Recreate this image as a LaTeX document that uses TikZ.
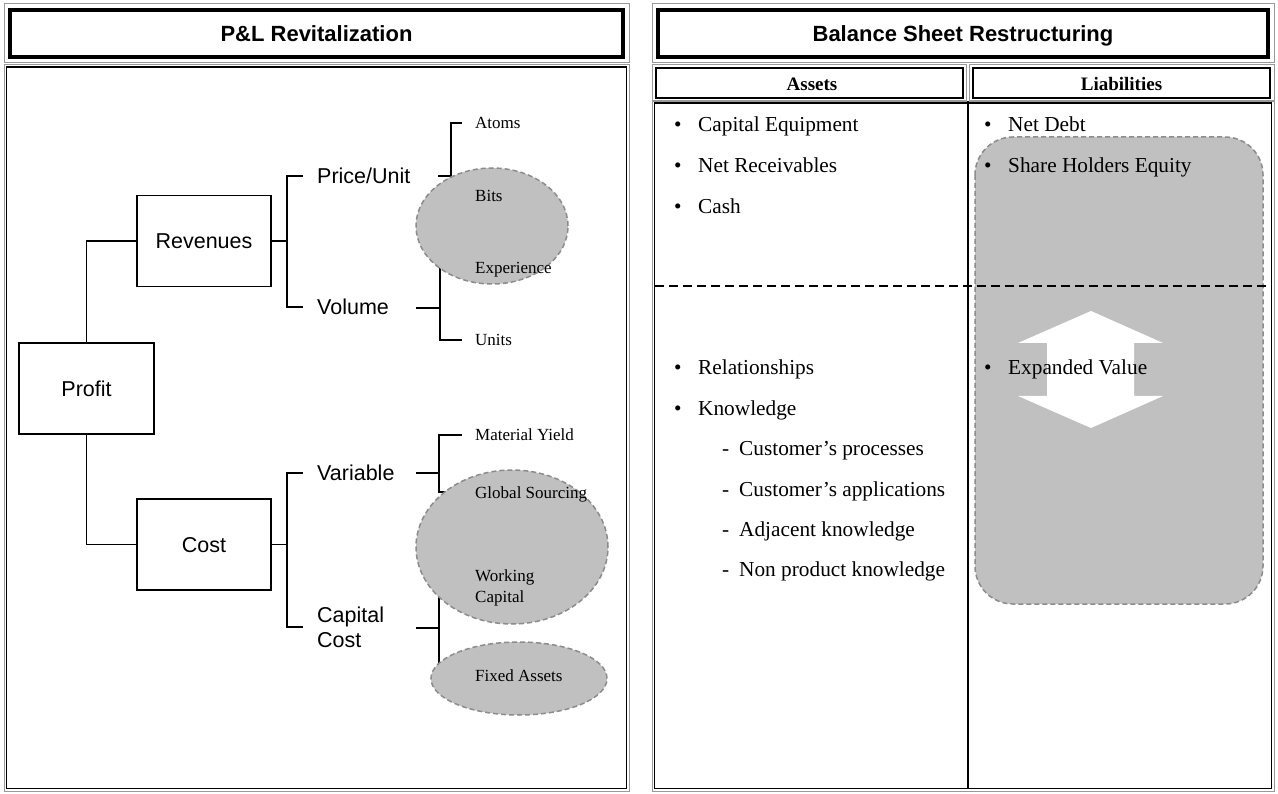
\documentclass[tikz,border=0pt]{standalone}
\usepackage{fontspec}
\setmainfont{Liberation Serif}
\setsansfont{Liberation Sans}
\usetikzlibrary{shapes.geometric}

\definecolor{shade}{HTML}{C0C0C0}
\definecolor{dashgray}{HTML}{8C8C8C}
\definecolor{rimgray}{HTML}{9A9A9A}

\begin{document}
\begin{tikzpicture}[x=1pt,y=-1pt,
  rim/.style={draw=rimgray, line width=1},
  thickframe/.style={draw=black, line width=4},
  headframe/.style={draw=black, line width=2.5},
  bodyframe/.style={draw=black, line width=1.6},
  titletext/.style={font=\sffamily\bfseries\fontsize{22}{26}\selectfont, inner sep=0,
    text height=15.8pt, text depth=0pt},
  headtext/.style={font=\bfseries\fontsize{19}{23}\selectfont, inner sep=0,
    text height=12.6pt, text depth=0pt},
  treebox/.style={draw, line width=1.3, minimum width=134pt, minimum height=91pt, inner sep=0,
    text height=15.4pt, text depth=0pt, font=\sffamily\fontsize{21.5}{24}\selectfont},
  midlabel/.style={anchor=west, inner sep=0, text height=15.4pt, text depth=0pt,
    font=\sffamily\fontsize{21.5}{24}\selectfont},
  leaf/.style={anchor=west, inner sep=0, text height=11.3pt, text depth=0pt,
    font=\fontsize{17}{21}\selectfont},
  link/.style={line width=1.3},
  brk/.style={line width=2},
  cloud/.style={ellipse, fill=shade, draw=dashgray, dash pattern=on 5pt off 3pt,
    line width=1.5, inner sep=0},
  item/.style={anchor=west, inner sep=0, text height=14pt, text depth=0pt,
    font=\fontsize{21.3}{25}\selectfont},
]
\useasboundingbox (0,0) rectangle (1278,794);
\fill[white] (0,0) rectangle (1278,794);

% ---------------- left panel: P&L revitalization ----------------
\draw[rim] (4,4) rectangle (629,63);
\draw[thickframe] (10,10) rectangle (623,57.5);
\node[titletext] (pltitle) at (316.5,33.5) {P\&L Revitalization};
\draw[rim] (4,64.5) rectangle (629,791);
\draw[bodyframe] (6.5,67) rectangle (626.5,788.5);

% tree boxes
\node[treebox, minimum width=135pt] (profit) at (86.5,388.5) {Profit};
\node[treebox] (rev) at (204,241) {Revenues};
\node[treebox] (cost) at (204,544.5) {Cost};

\draw[link] (profit.north) |- (rev.west);
\draw[link] (profit.south) |- (cost.west);

% second level labels
\node[midlabel] (pu) at (317,176) {Price/Unit};
\node[midlabel] (vol) at (317,307) {Volume};
\node[midlabel] (var) at (317,473) {Variable};
\node[midlabel] (capc1) at (317,615) {Capital};
\node[midlabel] (capc2) at (317,640) {Cost};

% brackets from the boxes
\coordinate (jr) at (287,241);
\coordinate (pu-in) at (303,176);
\coordinate (vol-in) at (303,307);
\draw[link] (rev.east) -- (jr);
\draw[brk] (pu-in) -- (jr |- pu-in) -- (jr |- vol-in) -- (vol-in);

\coordinate (jc) at (287,544.5);
\coordinate (var-in) at (303,473);
\coordinate (capc-in) at (303,627);
\draw[link] (cost.east) -- (jc);
\draw[brk] (var-in) -- (jc |- var-in) -- (jc |- capc-in) -- (capc-in);

% third level brackets
\coordinate (pu-out) at (438,176);
\coordinate (jp) at (451,176);
\coordinate (atoms-in) at (462,123);
\coordinate (bits-in) at (462,196);
\draw[brk] (pu-out) -- (jp);
\draw[brk] (atoms-in) -- (jp |- atoms-in) -- (jp |- bits-in) -- (bits-in);

\coordinate (vol-out) at (416,308);
\coordinate (jv) at (440,308);
\coordinate (exp-in) at (462,268);
\coordinate (units-in) at (462,340);
\draw[brk] (vol-out) -- (jv);
\draw[brk] (exp-in) -- (jv |- exp-in) -- (jv |- units-in) -- (units-in);

\coordinate (var-out) at (416,473);
\coordinate (jva) at (439,473);
\coordinate (my-in) at (462,435);
\coordinate (gs-in) at (462,492);
\draw[brk] (var-out) -- (jva);
\draw[brk] (my-in) -- (jva |- my-in) -- (jva |- gs-in) -- (gs-in);

\coordinate (capc-out) at (416,628);
\coordinate (jcc) at (439,628);
\coordinate (wc-in) at (462,587);
\coordinate (fa-in) at (462,676);
\draw[brk] (capc-out) -- (jcc);
\draw[brk] (wc-in) -- (jcc |- wc-in) -- (jcc |- fa-in) -- (fa-in);

% shaded groups
\node[cloud, minimum width=152pt, minimum height=116pt] (grp1) at (492,226) {};
\node[cloud, minimum width=192pt, minimum height=154pt] (grp2) at (512,547) {};
\node[cloud, minimum width=176pt, minimum height=73pt] (grp3) at (519,678.5) {};

% leaves
\node[leaf] (atoms) at (475,123) {Atoms};
\node[leaf] (bits) at (475,196) {Bits};
\node[leaf] (exper) at (475,268) {Experience};
\node[leaf] (units) at (475,340) {Units};
\node[leaf] (myield) at (475,435) {Material Yield};
\node[leaf] (gsourc) at (475,493) {Global Sourcing};
\node[leaf] (wcap1) at (475,576) {Working};
\node[leaf] (wcap2) at (475,597) {Capital};
\node[leaf] (fassets) at (475,676) {Fixed Assets};

% ---------------- right panel: balance sheet restructuring ----------------
\draw[rim] (652,4) rectangle (1274,63);
\draw[thickframe] (658,10) rectangle (1268,57.5);
\node[titletext] (bstitle) at (963,33.5) {Balance Sheet Restructuring};

\draw[rim] (652,64.5) rectangle (966.5,101);
\draw[headframe] (656,68) rectangle (963,98);
\node[headtext] (assets) at (812,84.5) {Assets};
\draw[rim] (969.5,64.5) rectangle (1274,101);
\draw[headframe] (973,68) rectangle (1270,98);
\node[headtext] (liab) at (1121.5,84.5) {Liabilities};

\draw[rim] (652,101.5) rectangle (1274,791);
\draw[bodyframe] (654.5,103) rectangle (1271.5,788.5);

% shaded liabilities block with the expansion arrow
\draw[fill=shade, draw=dashgray, dash pattern=on 5pt off 3pt, line width=1.5,
  rounded corners=38pt] (975,137) rectangle (1263,604);
\fill[white] (1091,311) -- (1163,343) -- (1134,343) -- (1134,396) -- (1163,396)
  -- (1091,428) -- (1018,396) -- (1047,396) -- (1047,343) -- (1018,343) -- cycle;

% column divider and the dashed split between tangible and intangible
\draw[line width=2] (968,101) -- (968,789);
\draw[line width=2.5, dash pattern=on 9pt off 5pt] (655,286) -- (1272,286);

% assets column
\foreach \y/\t/\n in {125/Capital Equipment/a1, 166/Net Receivables/a2, 207/Cash/a3,
                      368/Relationships/a4, 409/Knowledge/a5}{
  \node[item] (\n-dot) at (674,\y) {\textbullet};
  \node[item] (\n) at (698,\y) {\t};
}
\foreach \y/\t/\n in {449/Customer’s processes/k1, 489/Customer’s applications/k2,
                      529/Adjacent knowledge/k3, 569/Non product knowledge/k4}{
  \node[item] (\n-dash) at (722,\y) {-};
  \node[item] (\n) at (739,\y) {\t};
}

% liabilities column
\foreach \y/\t/\n in {125/Net Debt/l1, 166/Share Holders Equity/l2, 368/Expanded Value/l3}{
  \node[item] (\n-dot) at (984,\y) {\textbullet};
  \node[item] (\n) at (1008,\y) {\t};
}
\end{tikzpicture}
\end{document}
